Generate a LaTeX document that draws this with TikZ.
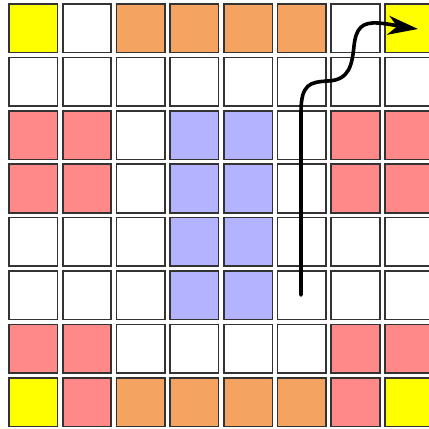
\documentclass[tikz,border=0pt]{standalone}
\usetikzlibrary{arrows.meta}
\definecolor{cy}{HTML}{FFFF00}
\definecolor{co}{HTML}{F4A460}
\definecolor{cp}{HTML}{FF8888}
\definecolor{cb}{HTML}{B3B3FF}
\definecolor{cw}{HTML}{FFFFFF}
\definecolor{edge}{HTML}{333333}
\begin{document}
\begin{tikzpicture}[x=1pt,y=-1pt,
  cell/.style={draw=edge,line width=1.6pt},
  path/.style={line width=3.6pt,line cap=round,-{Stealth[length=30pt,width=19pt,inset=9pt]}}]
\useasboundingbox (0,0) rectangle (429,429);
\begin{scope}
\clip (0,0) rectangle (429,429);
\foreach \row [count=\r from 0] in {
  {cy,cw,co,co,co,co,cw,cy},
  {cw,cw,cw,cw,cw,cw,cw,cw},
  {cp,cp,cw,cb,cb,cw,cp,cp},
  {cp,cp,cw,cb,cb,cw,cp,cp},
  {cw,cw,cw,cb,cb,cw,cw,cw},
  {cw,cw,cw,cb,cb,cw,cw,cw},
  {cp,cp,cw,cw,cw,cw,cp,cp},
  {cy,cp,co,co,co,co,cp,cy}}{
  \foreach \c [count=\k from 0] in \row {
    \path[cell,fill=\c] ({9+53.7*\k},{4+53.4*\r}) rectangle ++(48.5,48.5);
  }
}
\end{scope}
\coordinate (start) at (301,295);
\coordinate (goal) at (418,29);
\draw[path] (start) -- (301,112)
  .. controls (301,84) and (310,82) .. (328,81)
  .. controls (350,80) and (352,64) .. (354,46)
  .. controls (356,28) and (362,22) .. (378,23)
  .. controls (392,24) and (402,27) .. (goal);
\end{tikzpicture}
\end{document}
